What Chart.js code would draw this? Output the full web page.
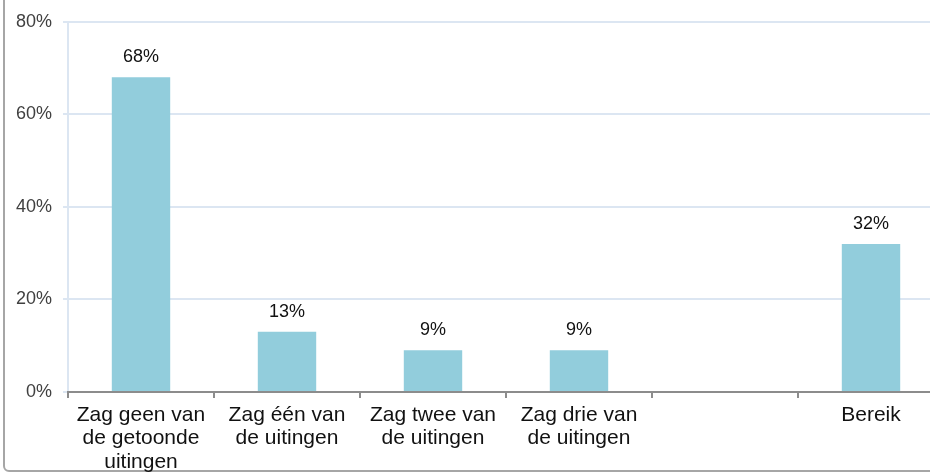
<!DOCTYPE html>
<html>
<head>
<meta charset="utf-8">
<script src="https://cdn.jsdelivr.net/npm/chart.js@4/dist/chart.umd.min.js"></script>
<style>
  html, body { margin: 0; padding: 0; overflow: hidden; background: #fff; }
  #frame {
    position: absolute; left: 3px; top: -20px; width: 1000px; height: 492px;
    border: 2px solid #a6a6a6; border-radius: 6px; box-sizing: border-box;
  }
  #wrap { position: absolute; left: 0; top: 0; width: 950px; height: 475px; }
</style>
</head>
<body>
<div id="frame"></div>
<div id="wrap"><canvas id="myChart" width="950" height="475"></canvas></div>
<script>
const categories = [
    ['Zag geen van', 'de getoonde', 'uitingen'],
    ['Zag één van', 'de uitingen'],
    ['Zag twee van', 'de uitingen'],
    ['Zag drie van', 'de uitingen'],
    '',
    'Bereik'
];
const values = [68, 13, 9, 9, null, 32];
const yTicks = [0, 20, 40, 60, 80];

// simple inline plugin for the labels above the bars
const barLabels = {
    id: 'barLabels',
    afterDatasetsDraw(chart) {
        const ctx = chart.ctx;
        const meta = chart.getDatasetMeta(0);
        ctx.save();
        ctx.font = '18px "Liberation Sans", Arial, sans-serif';
        ctx.fillStyle = '#111';
        ctx.textAlign = 'center';
        ctx.textBaseline = 'alphabetic';
        meta.data.forEach((bar, i) => {
            if (values[i] === null) return;
            ctx.fillText(values[i] + '%', bar.x, bar.y - 15);
        });
        ctx.restore();
    }
};

const ctx = document.getElementById('myChart').getContext('2d');

new Chart(ctx, {
    type: 'bar',
    data: {
        labels: categories,
        datasets: [{
            data: values,
            backgroundColor: '#92cddc',
            borderWidth: 0,
            categoryPercentage: 1,
            barPercentage: 0.4
        }]
    },
    options: {
        responsive: false,
        animation: false,
        layout: { padding: { top: 20, right: 6, left: 0, bottom: 0 } },
        plugins: {
            legend: { display: false },
            tooltip: { enabled: false }
        },
        scales: {
            y: {
                min: 0,
                max: 80,
                afterFit: (s) => { s.width = 68; },
                afterBuildTicks: (s) => { s.ticks = yTicks.map(v => ({ value: v })); },
                ticks: {
                    padding: 11,
                    color: '#404040',
                    font: { family: '"Liberation Sans", Arial, sans-serif', size: 18 },
                    callback: (v) => v + '%'
                },
                grid: {
                    color: '#dce6f2',
                    lineWidth: 2,
                    tickLength: 5
                },
                border: { color: '#dce6f2', width: 2 }
            },
            x: {
                afterFit: (s) => { s.height = 83; },
                ticks: {
                    padding: 6,
                    color: '#111',
                    maxRotation: 0,
                    autoSkip: false,
                    font: { family: '"Liberation Sans", Arial, sans-serif', size: 21, lineHeight: 1.1 }
                },
                grid: {
                    drawOnChartArea: false,
                    color: '#8c8c8c',
                    lineWidth: 2,
                    tickLength: 6
                },
                border: { color: '#8c8c8c', width: 2 }
            }
        }
    },
    plugins: [barLabels]
});
</script>
</body>
</html>
